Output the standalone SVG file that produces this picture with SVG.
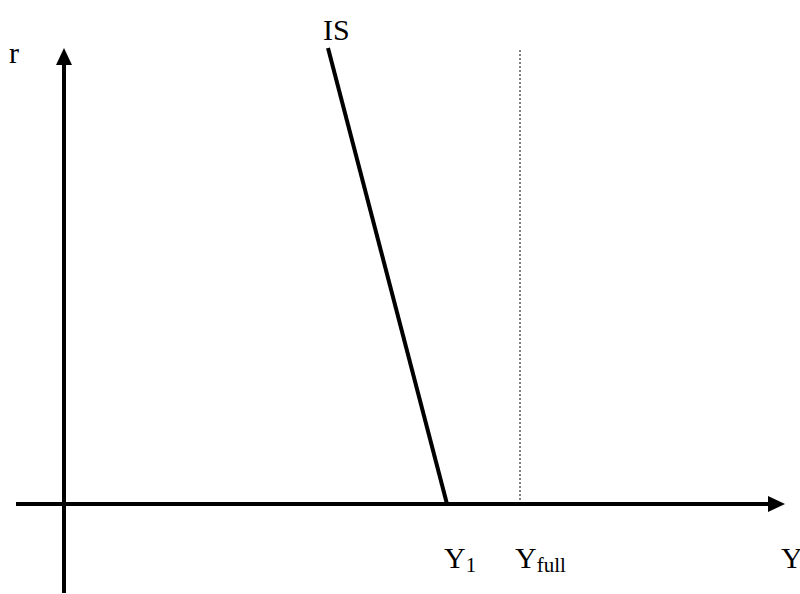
<svg xmlns="http://www.w3.org/2000/svg" width="800" height="594" viewBox="0 0 800 594">
<style>
text{font-family:"Liberation Serif","Times New Roman",serif;fill:#000}
.lbl{font-size:30px}
.sub{font-size:21px}
.axis{stroke:#000;stroke-width:4;fill:none}
</style>
<rect width="800" height="594" fill="#fff"/>
<g id="connectors">
<line class="axis" x1="64" y1="593" x2="64" y2="64"/>
<polygon points="64,48 56,65 72,65" fill="#000"/>
<line class="axis" x1="16" y1="504" x2="768" y2="504"/>
<polygon points="785,504 768,496 768,512" fill="#000"/>
<line x1="520" y1="50" x2="520" y2="502" stroke="#000" stroke-width="1" stroke-dasharray="2,2"/>
</g>
<g id="is-curve">
<line x1="328" y1="48" x2="447" y2="504" stroke="#000" stroke-width="4"/>
<text class="lbl" x="323" y="40">IS</text>
</g>
<g id="labels">
<text class="lbl" x="9" y="63">r</text>
<text class="lbl" x="444" y="568">Y<tspan class="sub" dy="4">1</tspan></text>
<text class="lbl" x="515" y="568">Y<tspan class="sub" dy="4">full</tspan></text>
<text class="lbl" x="781" y="568">Y</text>
</g>
</svg>
